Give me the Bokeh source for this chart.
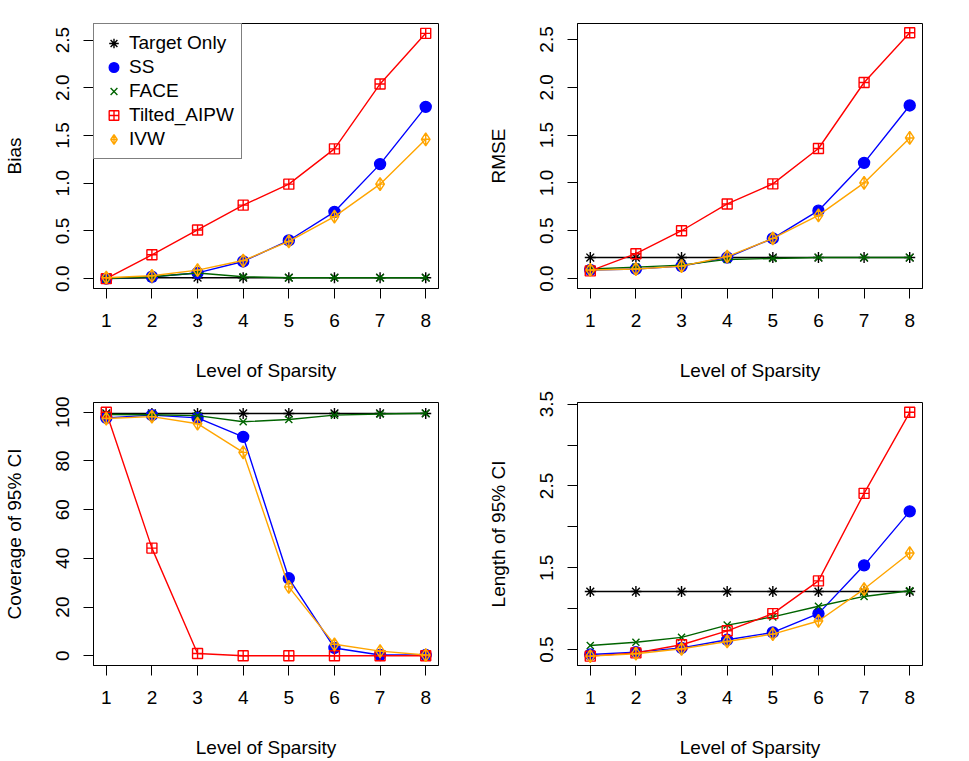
from bokeh.plotting import figure
from bokeh.layouts import gridplot
from bokeh.models import Range1d, FixedTicker, Legend, LegendItem, PrintfTickFormatter
from bokeh.embed import file_html
from bokeh.resources import INLINE

x = [1, 2, 3, 4, 5, 6, 7, 8]
series_names = ["Target Only", "SS", "FACE", "Tilted_AIPW", "IVW"]

bias_target = [0.00, 0.01, 0.01, 0.01, 0.01, 0.01, 0.01, 0.01]
bias_ss = [0.00, 0.02, 0.06, 0.18, 0.40, 0.70, 1.20, 1.80]
bias_face = [0.00, 0.02, 0.06, 0.02, 0.01, 0.01, 0.01, 0.01]
bias_tilted = [0.00, 0.25, 0.51, 0.77, 0.99, 1.36, 2.04, 2.57]
bias_ivw = [0.01, 0.03, 0.09, 0.19, 0.39, 0.65, 0.99, 1.46]

rmse_target = [0.22, 0.22, 0.22, 0.22, 0.22, 0.22, 0.22, 0.22]
rmse_ss = [0.09, 0.10, 0.13, 0.22, 0.42, 0.71, 1.21, 1.81]
rmse_face = [0.10, 0.12, 0.14, 0.20, 0.21, 0.22, 0.22, 0.22]
rmse_tilted = [0.08, 0.26, 0.50, 0.78, 0.99, 1.36, 2.05, 2.57]
rmse_ivw = [0.09, 0.10, 0.13, 0.23, 0.42, 0.66, 1.00, 1.47]

cov_target = [99.5, 99.5, 99.5, 99.5, 99.5, 99.5, 99.5, 99.5]
cov_ss = [97.7, 98.8, 97.7, 89.9, 31.8, 3.2, 0.3, 0.3]
cov_face = [99.1, 99.0, 98.6, 96.1, 97.0, 98.8, 99.3, 99.6]
cov_tilted = [100.0, 44.2, 0.9, 0.0, 0.0, 0.0, 0.0, 0.0]
cov_ivw = [97.4, 98.2, 95.3, 83.5, 28.3, 4.7, 1.9, 0.3]

len_target = [1.21, 1.21, 1.21, 1.21, 1.21, 1.21, 1.21, 1.21]
len_ss = [0.44, 0.47, 0.52, 0.62, 0.71, 0.94, 1.53, 2.19]
len_face = [0.55, 0.59, 0.65, 0.80, 0.90, 1.03, 1.15, 1.22]
len_tilted = [0.42, 0.46, 0.56, 0.73, 0.94, 1.34, 2.41, 3.40]
len_ivw = [0.42, 0.45, 0.51, 0.60, 0.69, 0.85, 1.24, 1.68]

x_ticks = [1, 2, 3, 4, 5, 6, 7, 8]
bias_ticks = [0.0, 0.5, 1.0, 1.5, 2.0, 2.5]
cov_ticks = [0, 20, 40, 60, 80, 100]
len_ticks = [0.5, 1.0, 1.5, 2.0, 2.5, 3.0, 3.5]
len_hidden = [1.0, 2.0, 3.0]

FONT = "Liberation Sans"
FS = "19px"
colors = ["black", "#0000FF", "#006400", "#FF0000", "#FFA500"]
markers = ["asterisk", "circle", "x", "square_cross", "diamond_cross"]
msizes = [11, 11, 10, 10, 13]


def make_panel(ylabel, series, yr, yticks, width, height, borders, fmt=None,
               legend=False, hidden=None):
    left, right, top, bottom = borders
    p = figure(width=width, height=height, output_backend="svg", toolbar_location=None,
               x_range=Range1d(0.72, 8.28), y_range=Range1d(*yr),
               min_border_left=left, min_border_right=right,
               min_border_top=top, min_border_bottom=bottom)
    p.outline_line_color = "black"
    p.outline_line_width = 1
    p.grid.visible = False
    p.background_fill_color = "white"
    p.border_fill_color = "white"
    p.xaxis.ticker = FixedTicker(ticks=x_ticks)
    p.yaxis.ticker = FixedTicker(ticks=yticks)
    if fmt:
        p.yaxis.formatter = PrintfTickFormatter(format=fmt)
    if hidden:
        p.yaxis.major_label_overrides = {h: "" for h in hidden}
    p.xaxis.axis_label = "Level of Sparsity"
    p.yaxis.axis_label = ylabel
    for ax in (p.xaxis, p.yaxis):
        ax.axis_line_color = "black"
        ax.major_tick_line_color = "black"
        ax.minor_tick_line_color = None
        ax.major_tick_out = 10
        ax.major_tick_in = 0
        ax.major_label_text_font = FONT
        ax.major_label_text_font_size = FS
        ax.major_label_text_color = "black"
        ax.axis_label_text_font = FONT
        ax.axis_label_text_font_size = FS
        ax.axis_label_text_font_style = "normal"
        ax.axis_label_text_color = "black"
    p.xaxis.major_label_standoff = 15
    p.xaxis.axis_label_standoff = 30
    p.yaxis.major_label_standoff = 14
    p.yaxis.axis_label_standoff = 29
    p.yaxis.major_label_orientation = "vertical"
    items = []
    for name, ys, c, m, s in zip(series_names, series, colors, markers, msizes):
        p.line(x, ys, line_color=c, line_width=1.4)
        kw = dict(size=s, line_color=c, line_width=1.4)
        kw["fill_color"] = c if m == "circle" else None
        r = p.scatter(x, ys, marker=m, **kw)
        items.append(LegendItem(label=name, renderers=[r]))
    if legend:
        lg = Legend(items=items, location="top_left", margin=0, padding=7, spacing=0,
                    glyph_width=25, glyph_height=24, label_height=24, label_standoff=3,
                    border_line_color="black", border_line_width=1,
                    background_fill_color="white", background_fill_alpha=1.0,
                    label_text_font=FONT, label_text_font_size=FS, label_text_color="black")
        p.add_layout(lg)
    return p


p1 = make_panel("Bias", [bias_target, bias_ss, bias_face, bias_tilted, bias_ivw],
                (-0.103, 2.673), bias_ticks, 484, 385, (92, 46, 23, 97), fmt="%.1f", legend=True)
p2 = make_panel("RMSE", [rmse_target, rmse_ss, rmse_face, rmse_tilted, rmse_ivw],
                (-0.104, 2.667), bias_ticks, 485, 385, (92, 47, 23, 97), fmt="%.1f")
p3 = make_panel("Coverage of 95% CI", [cov_target, cov_ss, cov_face, cov_tilted, cov_ivw],
                (-4.0, 104.0), cov_ticks, 484, 375, (92, 46, 17, 91))
p4 = make_panel("Length of 95% CI", [len_target, len_ss, len_face, len_tilted, len_ivw],
                (0.306, 3.52), len_ticks, 485, 375, (92, 47, 17, 91), fmt="%.1f", hidden=len_hidden)

grid = gridplot([[p1, p2], [p3, p4]], toolbar_location=None)

open("out.html", "w").write(file_html(grid, INLINE))
